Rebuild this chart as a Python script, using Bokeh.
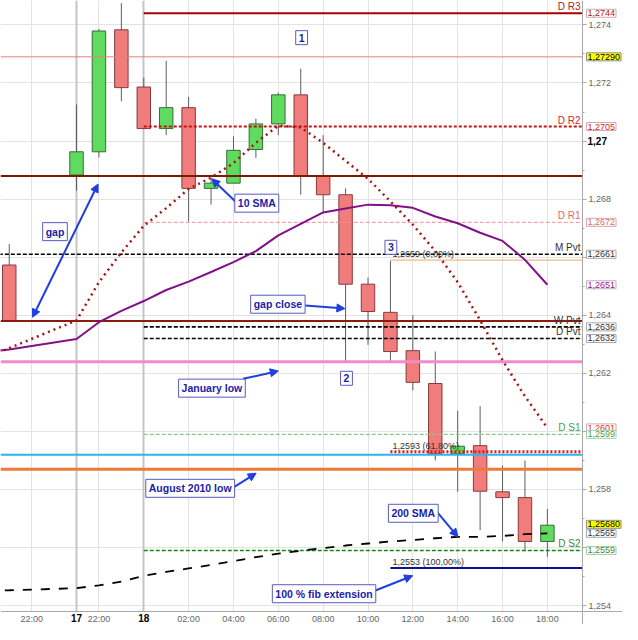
from bokeh.plotting import figure
from bokeh.models import Range1d, FixedTicker, Grid, Label, Arrow, NormalHead, LinearAxis
from bokeh.embed import file_html
from bokeh.resources import INLINE

# ---------------- data ----------------
SLOT = [-6, -3, -2, -1, 0, 1, 2, 3, 4, 5, 6, 7, 8, 9, 10, 11, 12, 13, 14, 15, 16, 17, 18]
OPEN = [1.26573, 1.26883, 1.26963, 1.27383, 1.27186, 1.27043, 1.27115, 1.26837, 1.26855, 1.26971, 1.27059, 1.27159,
        1.26880, 1.26815, 1.26507, 1.26410, 1.26278, 1.26165, 1.25923, 1.25951, 1.25792, 1.25772, 1.25621]
HIGH = [1.26645, 1.27126, 1.27386, 1.27475, 1.27218, 1.27276, 1.27152, 1.26874, 1.27016, 1.27077, 1.27167, 1.27249,
        1.27020, 1.26837, 1.26530, 1.26588, 1.26400, 1.26275, 1.26071, 1.26087, 1.25883, 1.25900, 1.25733]
LOW = [1.26382, 1.26829, 1.26944, 1.27137, 1.27043, 1.27020, 1.26723, 1.26781, 1.26855, 1.26942, 1.27020, 1.26815,
       1.26756, 1.26242, 1.26298, 1.26239, 1.26141, 1.25900, 1.25792, 1.25660, 1.25621, 1.25587, 1.25568]
CLOSE = [1.26382, 1.26963, 1.27379, 1.27184, 1.27043, 1.27115, 1.26837, 1.26855, 1.26968, 1.27059, 1.27159, 1.26880,
         1.26815, 1.26507, 1.26413, 1.26275, 1.26169, 1.25923, 1.25949, 1.25794, 1.25772, 1.25621, 1.25677]

SMA_SLOT = [-7, -6, -3, -2, -1, 0, 1, 2, 3, 4, 5, 6, 7, 8, 9, 10, 11, 12, 13, 14, 15, 16, 17, 18]
SMA10 = [1.26256, 1.26287, 1.26382, 1.26514, 1.26616, 1.26708, 1.26769, 1.26835, 1.26874, 1.26924, 1.26994, 1.27053,
         1.27047, 1.26994, 1.26932, 1.26870, 1.26792, 1.26712, 1.26621, 1.26514, 1.26383, 1.26245, 1.26121, 1.26012]
SMA20 = [1.26274, 1.26282, 1.26318, 1.26376, 1.26415, 1.26449, 1.26487, 1.26516, 1.26549, 1.26583, 1.26621, 1.26675,
         1.26715, 1.26754, 1.26768, 1.26781, 1.26779, 1.26770, 1.26740, 1.26717, 1.26684, 1.26656, 1.26591, 1.26505]
SMA200 = [1.25451, 1.25453, 1.25460, 1.25470, 1.25483, 1.25503, 1.25516, 1.25528, 1.25540, 1.25553, 1.25567, 1.25579,
          1.25589, 1.25598, 1.25607, 1.25614, 1.25621, 1.25626, 1.25632, 1.25637, 1.25637, 1.25640, 1.25646, 1.25649]

XTICK_POS = [-5, -2, 2, 4, 6, 8, 10, 12, 14, 16, 18]
XTICK_LABELS = ["22:00", "22:00", "02:00", "04:00", "06:00", "08:00", "10:00", "12:00", "14:00", "16:00", "18:00"]
DAY_POS = [-3, 0]
DAY_LABELS = ["17", "18"]

YTICKS = [1.254, 1.256, 1.258, 1.260, 1.262, 1.264, 1.266, 1.268, 1.270, 1.272, 1.274]
YTICK_LABELS = ["1,254", "", "1,258", "", "1,262", "1,264", "", "1,268", "", "1,272", "1,274"]
YMINOR = [1.253, 1.255, 1.257, 1.259, 1.261, 1.263, 1.265, 1.267, 1.269, 1.271, 1.273]
BOLD_TICK = 1.270
BOLD_TICK_LABEL = "1,27"

PIVOT_NAMES = ["D R3", "D R2", "D R1", "M Pvt", "W Pvt", "D Pvt", "D S1", "D S2"]
PIVOT_VALUES = [1.2744, 1.2705, 1.2672, 1.2661, 1.2636, 1.2632, 1.2599, 1.2559]
PIVOT_TEXT = ["1,2744", "1,2705", "1,2672", "1,2661", "1,2636", "1,2632", "1,2599", "1,2559"]
PIVOT_START = [0, 0, 0, -7, 0, 0, 0, 0]

OTHER_NAMES = ["prev high", "gap open", "gap close", "January low", "cyan", "August 2010 low"]
OTHER_VALUES = [1.2729, 1.2688, 1.2638, 1.2624, 1.2592, 1.2587]

FIB_VALUES = [1.2659, 1.2593, 1.2553]
FIB_TEXT = ["1,2659 (0,00%)", "1,2593 (61,80%)", "1,2553 (100,00%)"]
FIB_START = 11

PRICE_MARKS = [1.2729, 1.2568]
PRICE_TEXT = ["1,27290", "1,25680"]
SMA_LAST_TEXT = ["1,2601", "1,2651", "1,2565"]

# ---------------- layout / styles ----------------
X_START, X_PLOT_END, X_END = -6.39, 19.565, 21.35
Y_START, Y_PLOT_START, Y_END = 1.25335, 1.25379, 1.27484
FONT = "Liberation Sans"
NARROW = "'Liberation Sans Narrow', 'Liberation Sans', sans-serif"

p = figure(width=622, height=624, x_range=Range1d(X_START, X_END), y_range=Range1d(Y_START, Y_END),
           output_backend="svg", toolbar_location=None, x_axis_location=None, y_axis_location=None,
           min_border=0)
p.outline_line_color = None
p.background_fill_color = "white"
p.border_fill_color = "white"
p.grid.visible = False

p.add_layout(Grid(dimension=0, ticker=FixedTicker(ticks=XTICK_POS), grid_line_color="#e3e3e3"))
p.add_layout(Grid(dimension=1, ticker=FixedTicker(ticks=YTICKS), grid_line_color="#e3e3e3"))
p.add_layout(Grid(dimension=0, ticker=FixedTicker(ticks=DAY_POS), grid_line_color="#c4c4c4", grid_line_width=2))

# candles
up = [c >= o for o, c in zip(OPEN, CLOSE)]
p.segment(x0=SLOT, x1=SLOT, y0=LOW, y1=HIGH, line_color="#5e5e5e", line_width=1)
for flag, fill, edge in [(True, "#5fdc5f", "#3a6a3a"), (False, "#f07c7c", "#8a3a3a")]:
    xs = [s for s, u in zip(SLOT, up) if u == flag]
    tops = [max(o, c) for o, c, u in zip(OPEN, CLOSE, up) if u == flag]
    bots = [min(o, c) for o, c, u in zip(OPEN, CLOSE, up) if u == flag]
    p.vbar(x=xs, width=0.6, top=tops, bottom=bots, fill_color=fill, line_color=edge, line_width=1)

# horizontal levels
other_style = {
    "prev high": dict(line_color="#e58080", line_width=1),
    "gap open": dict(line_color="#7a1a00", line_width=2),
    "gap close": dict(line_color="#8b1a10", line_width=2),
    "January low": dict(line_color="#f28cc8", line_width=3),
    "cyan": dict(line_color="#2ab4f0", line_width=2),
    "August 2010 low": dict(line_color="#f07a3a", line_width=3),
}
for name, v in zip(OTHER_NAMES, OTHER_VALUES):
    p.segment(x0=[X_START], x1=[X_PLOT_END], y0=[v], y1=[v], **other_style[name])

pivot_style = {
    "D R3": dict(line_color="#a80000", line_width=2, line_dash="solid"),
    "D R2": dict(line_color="#c81010", line_width=2, line_dash="3 2"),
    "D R1": dict(line_color="#f09090", line_width=1, line_dash="4 2"),
    "M Pvt": dict(line_color="#000000", line_width=1.6, line_dash="4 2"),
    "W Pvt": dict(line_color="#000000", line_width=1.6, line_dash="4 2"),
    "D Pvt": dict(line_color="#000000", line_width=1.6, line_dash="4 2"),
    "D S1": dict(line_color="#8cc88c", line_width=1.2, line_dash="4 2"),
    "D S2": dict(line_color="#108a10", line_width=1.6, line_dash="4 2"),
}
pivot_color = {"D R3": "#b02020", "D R2": "#d02828", "D R1": "#e06868", "M Pvt": "#333333",
               "W Pvt": "#333333", "D Pvt": "#333333", "D S1": "#4aa04a", "D S2": "#3a8a3a"}
box_border = {"D R3": "#d8a8a8", "D R2": "#d8a8a8", "D R1": "#d8a8a8", "M Pvt": "#a8a8a8",
              "W Pvt": "#a8a8a8", "D Pvt": "#a8a8a8", "D S1": "#a8cca8", "D S2": "#a8cca8"}
for name, v, st in zip(PIVOT_NAMES, PIVOT_VALUES, PIVOT_START):
    p.segment(x0=[st], x1=[X_PLOT_END], y0=[v], y1=[v], **pivot_style[name])

fib_style = [dict(line_color="#f0a868", line_width=1, line_dash="solid"),
             dict(line_color="#e01818", line_width=3, line_dash="2 2"),
             dict(line_color="#101090", line_width=2, line_dash="solid")]
for v, st in zip(FIB_VALUES, fib_style):
    p.segment(x0=[FIB_START], x1=[X_PLOT_END], y0=[v], y1=[v], **st)

# moving averages
p.line(SMA_SLOT, SMA20, line_color="#82108a", line_width=2)
p.line(SMA_SLOT, SMA10, line_color="#a81414", line_width=2.5, line_dash="2 4")
p.line(SMA_SLOT, SMA200, line_color="#000000", line_width=1.8, line_dash="9 9")

# white strips for the price scale and the time scale
p.quad(left=[X_PLOT_END], right=[X_END], bottom=[Y_START], top=[Y_END], fill_color="white", line_color=None)
p.quad(left=[X_START], right=[X_END], bottom=[Y_START], top=[Y_PLOT_START], fill_color="white", line_color=None)

# axes drawn at the edges of the chart area
yax = LinearAxis(fixed_location=X_PLOT_END)
yax.ticker = FixedTicker(ticks=YTICKS, minor_ticks=YMINOR)
yax.major_label_overrides = dict(zip(YTICKS, YTICK_LABELS))
yax.major_label_text_font = FONT
yax.major_label_text_font_size = "9px"
yax.major_label_text_color = "#666666"
yax.axis_line_color = "#a8a8a8"
yax.major_tick_line_color = "#a8a8a8"
yax.minor_tick_line_color = "#a8a8a8"
yax.major_tick_in = 0
yax.major_tick_out = 4
yax.minor_tick_in = 0
yax.minor_tick_out = 2
yax.major_label_standoff = 2
p.add_layout(yax, "right")

xax = LinearAxis(fixed_location=Y_PLOT_START)
xax.ticker = FixedTicker(ticks=XTICK_POS)
xax.major_label_overrides = dict(zip(XTICK_POS, XTICK_LABELS))
xax.major_label_text_font = FONT
xax.major_label_text_font_size = "9px"
xax.major_label_text_color = "#666666"
xax.axis_line_color = "#a8a8a8"
xax.major_tick_line_color = None
xax.minor_tick_line_color = None
xax.major_tick_out = 0
xax.major_label_standoff = 2
p.add_layout(xax, "below")

# fib texts
for v, t in zip(FIB_VALUES, FIB_TEXT):
    p.add_layout(Label(x=FIB_START, y=v, x_offset=2, y_offset=1, text=t, text_font=FONT, text_font_size="9px",
                       text_color="#333333", text_baseline="bottom", text_align="left"))

# pivot names at right edge of the chart area
for name, v in zip(PIVOT_NAMES, PIVOT_VALUES):
    p.add_layout(Label(x=X_PLOT_END, y=v, x_offset=-2, y_offset=1, text=name, text_font=FONT, text_font_size="10px",
                       text_color=pivot_color[name], text_baseline="bottom", text_align="right"))

# boxed value labels on the price scale
def box(v, t, color, border, fill="white"):
    p.add_layout(Label(x=X_PLOT_END, y=v, x_offset=4, text=t, text_font=FONT, text_font_size="9px",
                       text_color=color, text_baseline="middle", text_align="left",
                       background_fill_color=fill, border_line_color=border, padding=1))

box(SMA10[-1], SMA_LAST_TEXT[0], "#d03030", "#d8a8a8")
for name, v, t in zip(PIVOT_NAMES, PIVOT_VALUES, PIVOT_TEXT):
    box(v, t, pivot_color[name], box_border[name])
box(SMA20[-1], SMA_LAST_TEXT[1], "#902090", "#c8a8c8")
box(SMA200[-1], SMA_LAST_TEXT[2], "#333333", "#a8a8a8")
for v, t in zip(PRICE_MARKS, PRICE_TEXT):
    box(v, t, "#000000", "#909090", "#ffff00")
p.add_layout(Label(x=X_PLOT_END, y=BOLD_TICK, x_offset=5, text=BOLD_TICK_LABEL, text_font=FONT,
                   text_font_size="10px", text_font_style="bold", text_color="#000000",
                   text_baseline="middle", text_align="left"))

# day labels on the time scale
for d, t in zip(DAY_POS, DAY_LABELS):
    p.add_layout(Label(x=d, y=Y_PLOT_START, y_offset=-2, text=t, text_font=FONT, text_font_size="10px",
                       text_font_style="bold", text_color="#000000", text_baseline="top", text_align="center"))

# annotations
ANN_BLUE = "#1c1ca8"
def note(x, y, t, size="10.5px"):
    p.add_layout(Label(x=x, y=y, text=t, text_font=NARROW, text_font_size=size, text_font_style="bold",
                       text_color=ANN_BLUE, text_align="center", text_baseline="middle",
                       background_fill_color="white", border_line_color="#5a5ac0", padding=3))

def arrow(x0, y0, x1, y1, both=False):
    head = lambda: NormalHead(size=8, fill_color="#1f3fe0", line_color="#1f3fe0")
    p.add_layout(Arrow(start=head() if both else None, end=head(), x_start=x0, y_start=y0, x_end=x1, y_end=y1,
                       line_color="#1f3fe0", line_width=2))

arrow(-4.96, 1.26393, -2.04, 1.26852, both=True)
note(-3.96, 1.26688, "gap")
arrow(4.12, 1.26789, 3.03, 1.26870)
note(5.04, 1.26786, "10 SMA")
arrow(7.2, 1.26434, 8.97, 1.26423)
note(5.98, 1.26438, "gap close")
arrow(4.43, 1.26181, 6.0, 1.26208)
note(3.04, 1.26149, "January low")
arrow(4.04, 1.25809, 5.01, 1.25856)
note(2.07, 1.25804, "August 2010 low")
arrow(13.03, 1.25727, 14.01, 1.25637)
note(12.02, 1.25718, "200 SMA")
arrow(10.16, 1.25447, 11.99, 1.25503)
note(8.04, 1.25441, "100 % fib extension")
note(7.04, 1.27356, "1")
note(9.04, 1.26183, "2")
note(11.02, 1.26634, "3")

open("out.html", "w").write(file_html(p, INLINE))
